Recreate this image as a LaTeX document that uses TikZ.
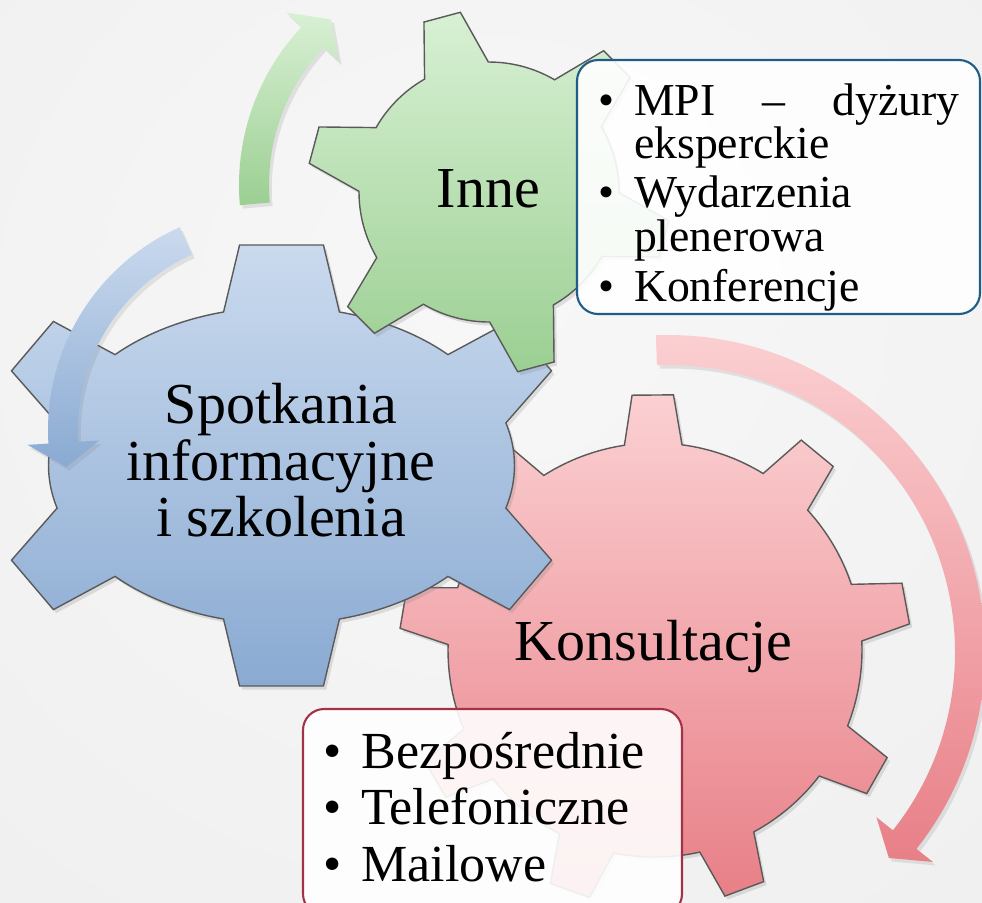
\documentclass[tikz,border=0pt]{standalone}
\usepackage{fontspec}
\setmainfont{Liberation Serif}
\usetikzlibrary{shadows}

\definecolor{gearline}{HTML}{5A5A5A}
\definecolor{bluegearT}{HTML}{CADAEE}
\definecolor{bluegearB}{HTML}{8AAAD2}
\definecolor{greengearT}{HTML}{D8F0D4}
\definecolor{greengearB}{HTML}{9BCF92}
\definecolor{redgearT}{HTML}{FBD0D2}
\definecolor{redgearB}{HTML}{E87F87}
\definecolor{innebord}{HTML}{1F5C87}
\definecolor{konsbord}{HTML}{A23246}

\pgfdeclareradialshading{slidebg}{\pgfpoint{0bp}{10bp}}{color(0bp)=(gray!6); color(40bp)=(gray!12); color(70bp)=(gray!30); color(80bp)=(gray!34)}

% gear outline: cx, cy, rx, ry, teeth, first tooth angle, tooth height, half base angle, tip factor
\newcommand{\gearpath}[9]{%
  ({#1+#3*cos(#6-#8)},{#2+#4*sin(#6-#8)})
  \foreach \k [evaluate=\k as \gta using {#6+(\k-1)*360/#5},
               evaluate=\k as \gtl using {100*sqrt((#3/100*sin(\gta))^2+(#4/100*cos(\gta))^2)},
               evaluate=\k as \gtb using {\gta+#8},
               evaluate=\k as \gte using {\gta+360/#5-#8}] in {1,...,#5} {
    -- ({#1+#3*cos(\gta)+#7*#4/\gtl*cos(\gta)+#9*#3*sin(\gta)},{#2+#4*sin(\gta)+#7*#3/\gtl*sin(\gta)-#9*#4*cos(\gta)})
    -- ({#1+#3*cos(\gta)+#7*#4/\gtl*cos(\gta)-#9*#3*sin(\gta)},{#2+#4*sin(\gta)+#7*#3/\gtl*sin(\gta)+#9*#4*cos(\gta)})
    -- ({#1+#3*cos(\gtb)},{#2+#4*sin(\gtb)})
    arc[start angle=\gtb, end angle=\gte, x radius=#3, y radius=#4]
  } -- cycle}

% bent arrow: cx, cy, radius, start angle, end angle, tip angle
\newcommand{\bentarrow}[6]{%
  ([shift={(#1,#2)}]#4:#3+15) arc[start angle=#4, end angle=#5, radius=#3+15]
  -- ([shift={(#1,#2)}]#5:#3+36) -- ([shift={(#1,#2)}]#6:#3)
  -- ([shift={(#1,#2)}]#5:#3-36) -- ([shift={(#1,#2)}]#5:#3-15)
  arc[start angle=#5, end angle=#4, radius=#3-15] -- cycle}

\tikzset{
  gearshape/.style={draw=gearline, line width=0.4pt,
    drop shadow={opacity=0.22, shadow xshift=0.8pt, shadow yshift=-1pt}},
  arcarrow/.style={drop shadow={opacity=0.18, shadow xshift=0.8pt, shadow yshift=-1pt}},
  listbox/.style={rounded corners=6pt, line width=0.6pt, fill=white, fill opacity=0.9},
  gearlabel/.style={font=\fontsize{16.5}{15}\selectfont, inner sep=0pt}
}

\begin{document}
\begin{tikzpicture}[x=0.01cm, y=-0.01cm]
  % Slide background
  \useasboundingbox (0,0) rectangle (982,902);
  \clip (0,0) rectangle (982,902);
  \shade[shading=slidebg] (0,0) rectangle (982,902);

  % Draw the gears
  \shade[gearshape, top color=redgearT, bottom color=redgearB]
    \gearpath{655}{650}{207}{207}{9}{29.5}{48}{8}{0.1};
  \shade[gearshape, top color=bluegearT, bottom color=bluegearB]
    \gearpath{281.5}{465.5}{233}{158.5}{6}{30}{62}{14.4}{0.18};
  \shade[gearshape, top color=greengearT, bottom color=greengearB]
    \gearpath{489}{192}{130}{130}{6}{15}{51}{14.7}{0.145};

  % Draw the arrows
  \shade[arcarrow, top color=greengearT, bottom color=greengearB]
    \bentarrow{470}{185}{216}{175}{223.2}{230};
  \shade[arcarrow, top color=bluegearT, bottom color=bluegearB]
    \bentarrow{270}{430}{207}{246}{176.5}{169.7};
  \shade[arcarrow, top color=redgearT, bottom color=redgearB]
    \bentarrow{668}{652}{302}{267.8}{398.4}{403};

  % Boxes for the lists
  \draw[listbox, draw=innebord] (577,60) rectangle (980,314);
  \draw[listbox, draw=konsbord] (303,709) rectangle (682,915);

  % Labels on the gears
  \node[gearlabel, align=center] (spotkania) at (281,460) {Spotkania\\informacyjne\\i szkolenia};
  \node[gearlabel, anchor=base] (inne) at (488.5,207) {Inne};
  \node[gearlabel, anchor=base] (konsultacje) at (653.5,660) {Konsultacje};

  % Lists
  \node[anchor=base west, inner sep=0pt, font=\fontsize{13}{11.5}\selectfont] (innelist) at (598,115)
    {\begin{tabular}[t]{@{}l@{\hspace{5.5pt}}p{92.5pt}@{}}
      \textbullet & MPI\hfill–\hfill dyżury\\
                  & eksperckie\\[1.5pt]
      \textbullet & Wydarzenia\\
                  & plenerowa\\[1.5pt]
      \textbullet & Konferencje
    \end{tabular}};
  \node[anchor=base west, inner sep=0pt, font=\fontsize{14.8}{16.2}\selectfont] (konslist) at (323,768)
    {\begin{tabular}[t]{@{}l@{\hspace{5.6pt}}l@{}}
      \textbullet & Bezpośrednie\\
      \textbullet & Telefoniczne\\
      \textbullet & Mailowe
    \end{tabular}};
\end{tikzpicture}
\end{document}
